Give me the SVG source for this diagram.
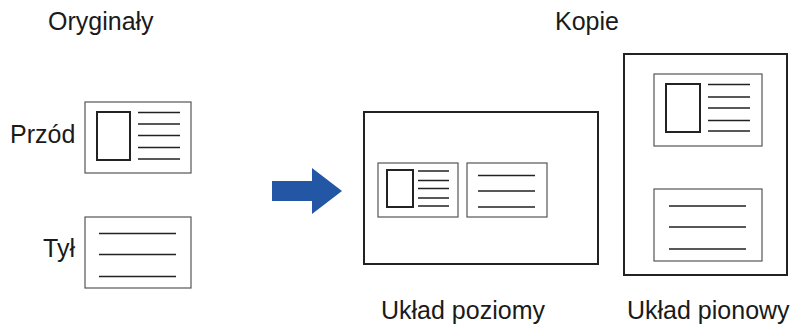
<svg xmlns="http://www.w3.org/2000/svg" width="793" height="325" viewBox="0 0 793 325">
<style>
text{font-family:"Liberation Sans",Arial,sans-serif;font-size:25px;fill:#1a1a1a}
.card{fill:#fff;stroke:#555;stroke-width:1.2}
.photo{fill:#fff;stroke:#222;stroke-width:2}
.ln{stroke:#222;stroke-width:1.6}
.page{fill:#fff;stroke:#222;stroke-width:2}
</style>
<rect width="793" height="325" fill="#fff"/>
<text x="48" y="30">Oryginały</text>
<text x="555" y="30">Kopie</text>
<text x="10" y="143">Przód</text>
<text x="43" y="257">Tył</text>
<text x="381" y="319">Układ poziomy</text>
<text x="627" y="319">Układ pionowy</text>
<g id="front">
<rect class="card" x="85" y="102" width="106" height="71"/>
<rect class="photo" x="97" y="112" width="33" height="48"/>
<path class="ln" d="M138 112.5H180M138 124H180M138 135.5H180M138 147.5H180M138 159H180"/>
</g>
<g id="back">
<rect class="card" x="85" y="217" width="106" height="71"/>
<path class="ln" d="M99 233.5H176M99 254.5H176M99 276.5H176"/>
</g>
<g id="connectors">
<polygon points="272,181 312,181 312,168 342,191 312,214 312,201 272,201" fill="#2456a6"/>
</g>
<g id="landscape">
<rect class="page" x="364" y="112" width="234" height="152"/>
<rect class="card" x="378" y="163" width="80" height="54"/>
<rect class="photo" x="387" y="170" width="26" height="37"/>
<path class="ln" d="M418 171H449M418 180.5H449M418 188.5H449M418 198H449M418 206H449"/>
<rect class="card" x="467" y="163" width="80" height="54"/>
<path class="ln" d="M478 175.5H535M478 191H535M478 207H535"/>
</g>
<g id="portrait">
<rect class="page" x="624" y="54" width="163" height="221"/>
<rect class="card" x="654" y="74" width="108" height="72"/>
<rect class="photo" x="666" y="84" width="34" height="48"/>
<path class="ln" d="M708 84.5H750M708 97H750M708 108H750M708 120.5H750M708 131H750"/>
<rect class="card" x="654" y="189" width="108" height="72"/>
<path class="ln" d="M669 206H746M669 227H746M669 249H746"/>
</g>
</svg>
